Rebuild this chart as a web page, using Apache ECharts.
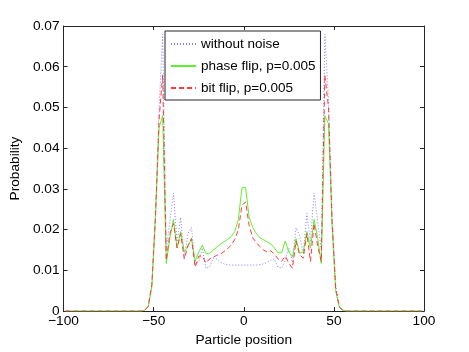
<!DOCTYPE html>
<html>
<head>
<meta charset="utf-8">
<script src="https://cdn.jsdelivr.net/npm/echarts@6/dist/echarts.min.js"></script>
<style>
  html, body { margin: 0; padding: 0; background: #fff; }
  #container { width: 469px; height: 352px; }
</style>
</head>
<body>
<div id="container"></div>
<script>
// particle positions (odd sites only)
var positions = [
    -99,-97,-95,-93,-91,-89,-87,-85,-83,-81,-79,-77,-75,-73,-71,-69,-67,-65,-63,-61,-59,-57,
    -55,-53,-51,-49,-47,-45,-43,-41,-39,-37,-35,-33,-31,-29,-27,-25,-23,-21,-19,-17,-15,-13,-11,-9,-7,-5,-3,-1,
    1,3,5,7,9,11,13,15,17,19,21,23,25,27,29,31,33,35,37,39,41,43,45,47,49,51,53,55,
    57,59,61,63,65,67,69,71,73,75,77,79,81,83,85,87,89,91,93,95,97,99
];
var withoutNoise = [
    0,0,0,0,0,0,0,0,0,0,0,0,0,0,0,0,0,0,0,0,0,0,
    0.0002,0.0012,0.0065,0.024,0.050,0.068,0.015,0.022,0.029,0.017,0.023,0.013,0.019,0.0205,
    0.0115,0.012,0.0155,0.0105,0.0108,0.013,0.0128,0.012,0.0116,0.0114,0.0113,0.0113,0.0113,0.0113,
    0.0113,0.0113,0.0113,0.0113,0.0114,0.0116,0.012,0.0125,0.0128,0.0108,0.0105,0.0125,0.0155,0.012,
    0.0205,0.0185,0.014,0.024,0.017,0.029,0.022,0.015,0.068,0.052,0.024,0.0065,0.0012,0.0002,
    0,0,0,0,0,0,0,0,0,0,0,0,0,0,0,0,0,0,0,0,0,0
];
var phaseFlip = [
    0,0,0,0,0,0,0,0,0,0,0,0,0,0,0,0,0,0,0,0,0,0,
    0.0002,0.001,0.006,0.023,0.045,0.048,0.0117,0.018,0.0225,0.0155,0.0195,0.0145,0.016,0.0178,
    0.0122,0.0145,0.0162,0.0141,0.0141,0.015,0.0157,0.0164,0.017,0.0176,0.0183,0.0195,0.0225,0.0303,
    0.0303,0.023,0.0205,0.019,0.018,0.0175,0.017,0.0165,0.0155,0.0143,0.0143,0.0172,0.0145,0.0133,
    0.0178,0.0142,0.0145,0.0195,0.0155,0.0225,0.018,0.0117,0.048,0.046,0.021,0.005,0.001,0.0002,
    0,0,0,0,0,0,0,0,0,0,0,0,0,0,0,0,0,0,0,0,0,0
];
var bitFlip = [
    0,0,0,0,0,0,0,0,0,0,0,0,0,0,0,0,0,0,0,0,0,0,
    0.0002,0.0012,0.0065,0.023,0.047,0.058,0.0125,0.019,0.0215,0.0155,0.019,0.0128,0.016,0.0178,
    0.0108,0.0135,0.0135,0.0118,0.0128,0.0132,0.0137,0.014,0.0146,0.0153,0.0162,0.0176,0.020,0.026,
    0.0268,0.021,0.018,0.0168,0.0158,0.015,0.0145,0.0148,0.014,0.0128,0.0122,0.0135,0.0118,0.0105,
    0.0172,0.0138,0.013,0.019,0.0122,0.0215,0.016,0.0122,0.058,0.050,0.022,0.0055,0.001,0.0002,
    0,0,0,0,0,0,0,0,0,0,0,0,0,0,0,0,0,0,0,0,0,0
];
var seriesNames = ['without noise', 'phase flip, p=0.005', 'bit flip, p=0.005'];

function pairs(vals) {
    var out = [];
    for (var i = 0; i < positions.length; i++) {
        out.push([positions[i], vals[i]]);
    }
    return out;
}

var font = 'Liberation Sans, Arial, Helvetica, sans-serif';
var fontSize = 13.7;
var axisColor = '#262626';

var dom = document.getElementById("container");
var myChart = echarts.init(dom, null, { renderer: 'canvas' });

function boxAxis(pos, showLabel) {
    return {
        type: 'value',
        position: pos,
        axisLine: { show: true, onZero: false, lineStyle: { color: axisColor, width: 1 } },
        axisTick: { show: true, inside: true, length: 4, lineStyle: { color: axisColor } },
        axisLabel: { show: showLabel },
        splitLine: { show: false }
    };
}

var xBottom = boxAxis('bottom', true);
xBottom.min = -100; xBottom.max = 100; xBottom.interval = 50;
xBottom.name = 'Particle position';
xBottom.nameLocation = 'middle';
xBottom.nameGap = 14;
xBottom.nameTextStyle = { fontFamily: font, fontSize: fontSize, color: '#000' };
xBottom.axisLabel = {
    show: true, margin: 3, fontFamily: font, fontSize: fontSize, color: '#000',
    formatter: function (v) { return v < 0 ? '\u2212' + (-v) : String(v); }
};
var xTop = boxAxis('top', false);
xTop.min = -100; xTop.max = 100; xTop.interval = 50;

var yLeft = boxAxis('left', true);
yLeft.min = 0; yLeft.max = 0.07; yLeft.interval = 0.01;
yLeft.name = 'Probability';
yLeft.nameLocation = 'middle';
yLeft.nameGap = 30;
yLeft.nameTextStyle = { fontFamily: font, fontSize: fontSize, color: '#000' };
yLeft.axisLabel = {
    show: true, margin: 4, fontFamily: font, fontSize: fontSize, color: '#000',
    formatter: function (v) { return v === 0 ? '0' : v.toFixed(2); }
};
var yRight = boxAxis('right', false);
yRight.min = 0; yRight.max = 0.07; yRight.interval = 0.01;

option = {
    animation: false,
    backgroundColor: '#fff',
    grid: { left: 61, right: 45, top: 26, bottom: 39 },
    legend: {
        orient: 'vertical',
        left: 165,
        top: 31,
        padding: [6, 5, 5, 5],
        itemGap: 8,
        itemWidth: 25,
        itemHeight: 14,
        borderColor: axisColor,
        borderWidth: 1,
        backgroundColor: '#fff',
        itemStyle: { opacity: 0 },
        textStyle: { fontFamily: font, fontSize: 13.5, color: '#000', lineHeight: 14 },
        data: seriesNames
    },
    xAxis: [xBottom, xTop],
    yAxis: [yLeft, yRight],
    series: [{
        name: seriesNames[0],
        type: 'line',
        data: pairs(withoutNoise),
        showSymbol: false,
        symbol: 'none',
        lineStyle: { color: '#7f7fff', width: 1, type: [1, 2] },
        itemStyle: { color: '#7f7fff' }
    }, {
        name: seriesNames[1],
        type: 'line',
        data: pairs(phaseFlip),
        showSymbol: false,
        symbol: 'none',
        lineStyle: { color: '#5ef02a', width: 1, type: 'solid' },
        itemStyle: { color: '#5ef02a' }
    }, {
        name: seriesNames[2],
        type: 'line',
        data: pairs(bitFlip),
        showSymbol: false,
        symbol: 'none',
        lineStyle: { color: '#ff3b3b', width: 1, type: [5, 3] },
        itemStyle: { color: '#ff3b3b' }
    }]
};
if (option && typeof option === "object") {
    myChart.setOption(option, true);
}
</script>
</body>
</html>
